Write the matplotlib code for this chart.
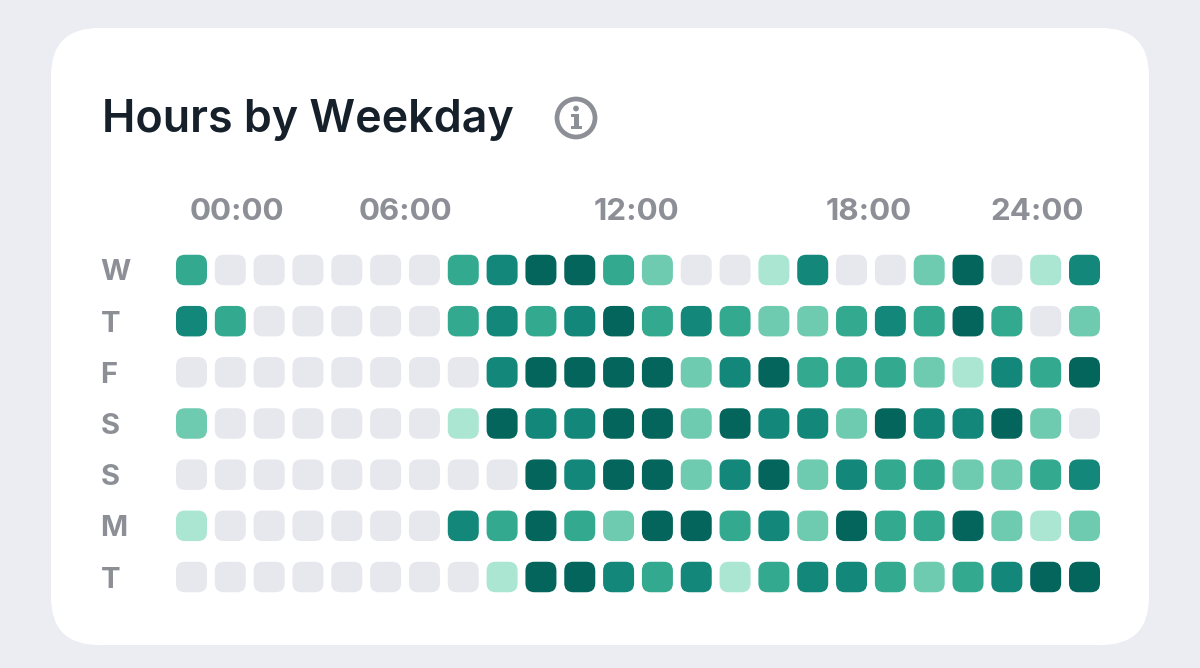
import matplotlib
matplotlib.use('Agg')
import matplotlib.pyplot as plt
from matplotlib.patches import FancyBboxPatch, Circle, Rectangle
import numpy as np

plt.rcParams['font.family'] = ['Inter', 'DejaVu Sans']

days = ['W', 'T', 'F', 'S', 'S', 'M', 'T']
hour_labels = ['00:00', '06:00', '12:00', '18:00', '24:00']
hour_pos = [1.17, 5.52, 11.47, 17.44, 21.78]
level_colors = ['#e7e8ee', '#abe6d2', '#6fcbb0', '#33aa8f', '#12877a', '#03655c']

wed = [3, 0, 0, 0, 0, 0, 0, 3, 4, 5, 5, 3, 2, 0, 0, 1, 4, 0, 0, 2, 5, 0, 1, 4]
thu = [4, 3, 0, 0, 0, 0, 0, 3, 4, 3, 4, 5, 3, 4, 3, 2, 2, 3, 4, 3, 5, 3, 0, 2]
fri = [0, 0, 0, 0, 0, 0, 0, 0, 4, 5, 5, 5, 5, 2, 4, 5, 3, 3, 3, 2, 1, 4, 3, 5]
sat = [2, 0, 0, 0, 0, 0, 0, 1, 5, 4, 4, 5, 5, 2, 5, 4, 4, 2, 5, 4, 4, 5, 2, 0]
sun = [0, 0, 0, 0, 0, 0, 0, 0, 0, 5, 4, 5, 5, 2, 4, 5, 2, 4, 3, 3, 2, 2, 3, 4]
mon = [1, 0, 0, 0, 0, 0, 0, 4, 3, 5, 3, 2, 5, 5, 3, 4, 2, 5, 3, 3, 5, 2, 1, 2]
tue = [0, 0, 0, 0, 0, 0, 0, 0, 1, 5, 5, 4, 3, 4, 1, 3, 4, 4, 3, 2, 3, 4, 5, 5]
grid = np.array([wed, thu, fri, sat, sun, mon, tue])

W, H = 1200, 668
fig = plt.figure(figsize=(12, 6.68), dpi=100, facecolor='#ecedf3')

# page and card, in pixels
bg = fig.add_axes([0, 0, 1, 1])
bg.set_xlim(0, W)
bg.set_ylim(H, 0)
bg.axis('off')
bg.add_patch(FancyBboxPatch((51, 28), 1098, 617, boxstyle='round,pad=0,rounding_size=48',
                            fc='white', ec='none'))
bg.text(102, 132, 'Hours by Weekday', fontsize=32.3, fontweight=600, color='#15202a',
        ha='left', va='baseline')
bg.add_patch(Circle((576, 118), 19, fc='none', ec='#8d8f96', lw=3.4))
bg.add_patch(Circle((576, 108.5), 2.9, fc='#8d8f96', ec='none'))
bg.add_patch(Rectangle((573.5, 114), 5, 14, fc='#8d8f96', ec='none'))
bg.add_patch(Rectangle((570.5, 114), 7, 3.4, fc='#8d8f96', ec='none'))
bg.add_patch(Rectangle((570.5, 125.5), 11, 3.4, fc='#8d8f96', ec='none'))

# heatmap axes: one unit per cell
pitch_x = (1069 - 176) / 23
pitch_y = (562 - 255) / 6
left = 191.5 - pitch_x / 2
top = 270 - pitch_y / 2
ax = fig.add_axes([left / W, 1 - (top + 7 * pitch_y) / H, 24 * pitch_x / W, 7 * pitch_y / H])
ax.set_xlim(-0.5, 23.5)
ax.set_ylim(6.5, -0.5)
ax.patch.set_alpha(0)
for s in ax.spines.values():
    s.set_visible(False)

cell_w = 31 / pitch_x
cell_h = 30.5 / pitch_y
for r in range(grid.shape[0]):
    for c in range(grid.shape[1]):
        ax.add_patch(FancyBboxPatch((c - cell_w / 2, r - cell_h / 2), cell_w, cell_h,
                                    boxstyle='round,pad=0,rounding_size=%f' % (9 / pitch_x),
                                    mutation_aspect=pitch_x / pitch_y,
                                    fc=level_colors[grid[r, c]], ec='none'))

ax.xaxis.tick_top()
ax.set_xticks(hour_pos)
ax.set_xticklabels(hour_labels, fontsize=22.5, fontweight=700, color='#8d8f96')
ax.set_yticks(range(7))
ax.set_yticklabels(days, fontsize=21, fontweight=700, color='#8d8f96', ha='left')
ax.tick_params(axis='x', length=0, pad=13)
ax.tick_params(axis='y', length=0, pad=51.5)

fig.savefig('out.png', dpi=100, facecolor=fig.get_facecolor())
